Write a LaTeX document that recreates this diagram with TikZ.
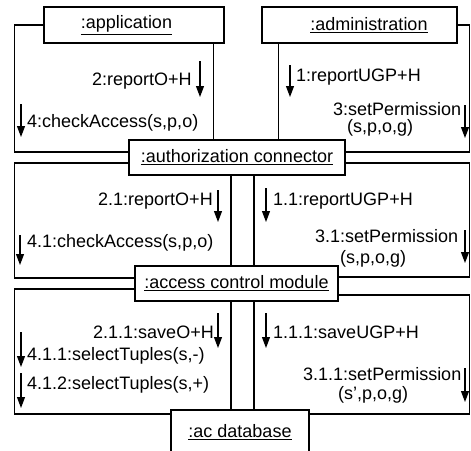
\documentclass[tikz,border=0pt]{standalone}
\usepackage{fontspec}
\setmainfont{Liberation Sans}
\usetikzlibrary{arrows.meta}

\begin{document}
\begin{tikzpicture}[
    x=1pt, y=-1pt,
    object/.style={rectangle, draw=black, line width=1.1pt, inner sep=0pt,
                   font=\fontsize{18}{20}\selectfont},
    link/.style={line width=1.1pt},
    msgarrow/.style={-{Triangle[length=11pt, width=8pt]}, line width=1.1pt},
    msg/.style={anchor=west, inner sep=0pt, font=\fontsize{18}{20}\selectfont}
]
\useasboundingbox (0,0) rectangle (471,450);

    % Objects
    \node[object, minimum width=180pt, minimum height=36pt] (app) at (134,25) {\hspace*{-15pt}\underline{:application}};
    \node[object, minimum width=195pt, minimum height=36pt] (admin) at (359.5,25) {\hspace*{19pt}\underline{:administration}};
    \node[object, minimum width=216pt, minimum height=35pt] (auth) at (237,157.5) {\underline{:authorization connector}};
    \node[object, minimum width=203pt, minimum height=35pt] (acm) at (236.5,283.5) {\underline{:access control module}};
    \node[object, minimum width=138pt, minimum height=44pt] (db) at (240,432) {\underline{:ac database}};

    % Links application / administration -- authorization connector
    \draw[link] (app.west) -| ([xshift=-114pt,yshift=5.5pt]auth.west) -- ([yshift=5.5pt]auth.west);
    \draw[link] ([xshift=-11pt]app.south east) -- ([xshift=-11pt]app.south east |- auth.north);
    \draw[link] ([xshift=17pt]admin.south west) -- ([xshift=17pt]admin.south west |- auth.north);
    \draw[link] (admin.east) -| ([xshift=124pt,yshift=5.5pt]auth.east) -- ([yshift=5.5pt]auth.east);

    % Links authorization connector -- access control module
    \draw[link] ([yshift=-5.5pt]auth.west) -| ([xshift=-120pt,yshift=5.5pt]acm.west) -- ([yshift=5.5pt]acm.west);
    \draw[link] ([xshift=-6pt]auth.south) -- ([xshift=-6pt]auth.south |- acm.north);
    \draw[link] ([xshift=17pt]auth.south) -- ([xshift=17pt]auth.south |- acm.north);
    \draw[link] ([yshift=-5.5pt]auth.east) -| ([xshift=131pt,yshift=6.5pt]acm.east) -- ([yshift=6.5pt]acm.east);

    % Links access control module -- ac database
    \draw[link] ([yshift=-5.5pt]acm.west) -| ([xshift=-156pt,yshift=18pt]db.west) -- ([yshift=18pt]db.west);
    \draw[link] ([xshift=-9pt]db.north |- acm.south) -- ([xshift=-9pt]db.north);
    \draw[link] ([xshift=14pt]db.north |- acm.south) -- ([xshift=14pt]db.north);
    \draw[link] ([yshift=-11.5pt]acm.east) -| ([xshift=160pt,yshift=18pt]db.east) -- ([yshift=18pt]db.east);

    % Messages, top
    \node[msg] (m2) at (92,81) {2:reportO+H};
    \draw[msgarrow] (200,61) -- (200,97);
    \node[msg] (m4) at (27,123) {4:checkAccess(s,p,o)};
    \draw[msgarrow] (21,104) -- (21,137);
    \node[msg] (m1) at (296,77) {1:reportUGP+H};
    \draw[msgarrow] (290,65) -- (290,97);
    \node[msg] (m3) at (333,109) {3:setPermission};
    \node[msg] (m3arg) at (347,128) {(s,p,o,g)};
    \draw[msgarrow] (465,105) -- (465,138);

    % Messages, middle
    \node[msg] (m21) at (98,201) {2.1:reportO+H};
    \draw[msgarrow] (218,190) -- (218,222);
    \node[msg] (m41) at (27,243) {4.1:checkAccess(s,p,o)};
    \draw[msgarrow] (20,235) -- (20,265);
    \node[msg] (m11) at (273,201) {1.1:reportUGP+H};
    \draw[msgarrow] (266,188) -- (266,222);
    \node[msg] (m31) at (315,236) {3.1:setPermission};
    \node[msg] (m31arg) at (340,259) {(s,p,o,g)};
    \draw[msgarrow] (465,230) -- (465,263);

    % Messages, bottom
    \node[msg] (m211) at (93,332) {2.1.1:saveO+H};
    \draw[msgarrow] (218,313) -- (218,348);
    \node[msg] (m411) at (27,356) {4.1.1:selectTuples(s,-)};
    \draw[msgarrow] (21,332) -- (21,367);
    \node[msg] (m412) at (27,385) {4.1.2:selectTuples(s,+)};
    \draw[msgarrow] (21,373) -- (21,408);
    \node[msg] (m111) at (273,332) {1.1.1:saveUGP+H};
    \draw[msgarrow] (266,313) -- (266,348);
    \node[msg] (m311) at (303,374) {3.1.1:setPermission};
    \node[msg] (m311arg) at (338,395) {(s',p,o,g)};
    \draw[msgarrow] (465,368) -- (465,402);

\end{tikzpicture}
\end{document}
